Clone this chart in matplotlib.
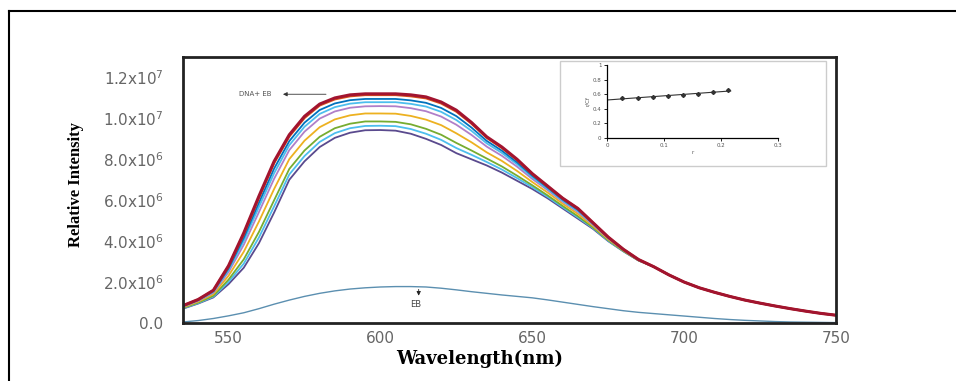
import numpy as np
import matplotlib
matplotlib.use("Agg")
import matplotlib.pyplot as plt
from matplotlib.lines import Line2D
from matplotlib.patches import Rectangle

# Emission spectra, intensity in units of 1e6
wavelength = list(range(535, 751, 5))

# shared tail 690..750 nm, where all DNA+EB curves merge
tail = [2.75, 2.35, 2.0, 1.72, 1.5, 1.3, 1.12, 0.97, 0.83, 0.7, 0.58, 0.47, 0.38]

dna_eb = [0.85, 1.15, 1.6, 2.8, 4.4, 6.2, 7.9, 9.2, 10.1, 10.7, 11.0, 11.15, 11.2, 11.2, 11.2, 11.15,
          11.05, 10.8, 10.4, 9.8, 9.1, 8.6, 8.0, 7.3, 6.7, 6.1, 5.6, 4.9, 4.2, 3.6, 3.1] + tail
curve2 = [0.85, 1.14, 1.59, 2.77, 4.35, 6.13, 7.83, 9.13, 10.03, 10.64, 10.94, 11.09, 11.15, 11.15, 11.15,
          11.09, 10.99, 10.74, 10.34, 9.75, 9.06, 8.56, 7.97, 7.28, 6.68, 6.09, 5.59, 4.89, 4.19, 3.6, 3.1] + tail
curve3 = [0.83, 1.12, 1.55, 2.67, 4.16, 5.88, 7.55, 8.89, 9.79, 10.41, 10.73, 10.89, 10.95, 10.95, 10.95,
          10.88, 10.76, 10.51, 10.11, 9.55, 8.9, 8.42, 7.85, 7.2, 6.62, 6.03, 5.53, 4.86, 4.17, 3.59, 3.1] + tail
curve4 = [0.82, 1.10, 1.52, 2.59, 4.01, 5.67, 7.32, 8.69, 9.59, 10.22, 10.55, 10.72, 10.79, 10.79, 10.79,
          10.71, 10.58, 10.32, 9.92, 9.39, 8.78, 8.31, 7.76, 7.13, 6.56, 5.98, 5.48, 4.83, 4.15, 3.58, 3.09] + tail
curve5 = [0.80, 1.08, 1.48, 2.49, 3.82, 5.42, 7.05, 8.45, 9.35, 9.99, 10.34, 10.52, 10.59, 10.6, 10.59,
          10.5, 10.35, 10.09, 9.69, 9.19, 8.62, 8.17, 7.64, 7.04, 6.5, 5.93, 5.43, 4.8, 4.13, 3.57, 3.08] + tail
curve6 = [0.77, 1.04, 1.41, 2.31, 3.48, 4.96, 6.55, 8.01, 8.91, 9.57, 9.95, 10.15, 10.24, 10.24, 10.23,
          10.12, 9.94, 9.67, 9.27, 8.83, 8.34, 7.92, 7.43, 6.89, 6.38, 5.83, 5.33, 4.74, 4.09, 3.55, 3.07] + tail
curve7 = [0.74, 1.0, 1.33, 2.12, 3.11, 4.45, 6.0, 7.53, 8.43, 9.1, 9.52, 9.74, 9.85, 9.85, 9.83,
          9.71, 9.49, 9.2, 8.8, 8.43, 8.04, 7.65, 7.2, 6.73, 6.24, 5.72, 5.22, 4.67, 4.05, 3.52, 3.06] + tail
curve8 = [0.72, 0.97, 1.29, 2.01, 2.9, 4.18, 5.7, 7.26, 8.16, 8.85, 9.28, 9.52, 9.63, 9.64, 9.62,
          9.48, 9.25, 8.95, 8.55, 8.22, 7.87, 7.5, 7.08, 6.64, 6.17, 5.66, 5.16, 4.64, 4.02, 3.51, 3.06] + tail
curve9 = [0.7, 0.95, 1.25, 1.9, 2.7, 3.9, 5.4, 7.0, 7.9, 8.6, 9.05, 9.3, 9.42, 9.43, 9.4,
          9.25, 9.0, 8.7, 8.3, 8.0, 7.7, 7.35, 6.95, 6.55, 6.1, 5.6, 5.1, 4.6, 4.0, 3.5, 3.05] + tail
eb_only = [0.05, 0.12, 0.22, 0.35, 0.5, 0.7, 0.92, 1.12, 1.3, 1.45, 1.57, 1.66, 1.72, 1.76, 1.78, 1.78,
           1.76, 1.7, 1.62, 1.53, 1.45, 1.37, 1.3, 1.23, 1.13, 1.02, 0.91, 0.8, 0.7, 0.6, 0.52, 0.46,
           0.4, 0.34, 0.28, 0.22, 0.17, 0.13, 0.1, 0.07, 0.05, 0.04, 0.03, 0.02]

series = [curve9, curve8, curve7, curve6, curve5, curve4, curve3, curve2, dna_eb]
colors = ['#5a4a8e', '#4DBEEE', '#77AC30', '#EDB120', '#b07fc8', '#4DBEEE', '#0072BD', '#D95319', '#A2142F']
widths = [1.3, 1.3, 1.3, 1.3, 1.3, 1.3, 1.3, 1.8, 2.2]

yticks = [0, 2e6, 4e6, 6e6, 8e6, 1e7, 1.2e7]
ytick_labels = ['0.0', '2.0x10$^6$', '4.0x10$^6$', '6.0x10$^6$', '8.0x10$^6$',
                '1.0x10$^7$', '1.2x10$^7$']
xticks = [550, 600, 650, 700, 750]

# inset data
inset_x = [0.027, 0.054, 0.081, 0.107, 0.133, 0.16, 0.186, 0.212]
inset_y = [0.55, 0.55, 0.56, 0.573, 0.582, 0.596, 0.633, 0.656]

fig = plt.figure(figsize=(9.56, 3.81), dpi=100)

# outer page frame
fig.add_artist(Line2D([9 / 956, 1.0], [1 - 11 / 381, 1 - 11 / 381], color='black', lw=1.5))
fig.add_artist(Line2D([9 / 956, 9 / 956], [0, 1 - 11 / 381], color='black', lw=1.5))

ax = fig.add_axes([183 / 956, 1 - 323 / 381, 653 / 956, 266 / 381])
wl = np.array(wavelength)
for s, c, w in zip(series, colors, widths):
    ax.plot(wl, np.array(s) * 1e6, color=c, lw=w)
ax.plot(wl, np.array(eb_only) * 1e6, color='#5b8fb0', lw=1.0)

ax.set_xlim(535, 750)
ax.set_ylim(0, 1.3e7)
ax.set_yticks(yticks)
ax.set_yticklabels(ytick_labels)
ax.set_xticks(xticks)
ax.tick_params(length=0, labelsize=11, labelcolor='#666666')
ax.tick_params(axis='y', pad=14)
ax.tick_params(axis='x', pad=6)
for sp in ax.spines.values():
    sp.set_linewidth(2)
    sp.set_color('#222222')

ax.set_xlabel('Wavelength(nm)', fontfamily='DejaVu Serif', fontweight='bold', fontsize=13)
ax.xaxis.set_label_coords((480 - 183) / 653, -27 / 266)
ax.set_ylabel('Relative Intensity', fontfamily='Liberation Serif', fontweight='bold', fontsize=12)
ax.yaxis.set_label_coords((84 - 183) / 653, 0.52)

# annotations
ax.annotate('', xy=(567, 11.18e6), xytext=(583, 11.18e6),
            arrowprops=dict(arrowstyle='-|>', lw=0.6, color='#333333', mutation_scale=6))
ax.text(564, 11.18e6, 'DNA+ EB', fontsize=5, color='#555555', ha='right', va='center')
ax.annotate('', xy=(612.6, 1.2e6), xytext=(612.6, 1.78e6),
            arrowprops=dict(arrowstyle='-|>', lw=0.6, color='#222222', mutation_scale=6))
ax.text(611.5, 0.9e6, 'EB', fontsize=6, color='#444444', ha='center', va='center')

# inset box and plot
fig.add_artist(Rectangle((560 / 956, 1 - 166 / 381), 266 / 956, 105 / 381,
                         transform=fig.transFigure, fill=False, ec='#cccccc', lw=1))
ins = fig.add_axes([607 / 956, 1 - 137.7 / 381, 171 / 956, 72.7 / 381])
ins.patch.set_alpha(0)
ins.plot(inset_x, inset_y, 'D', color='#333333', ms=2)
k, b = np.polyfit(inset_x, inset_y, 1)
fit_x = np.array([0, max(inset_x) + 0.005])
ins.plot(fit_x, k * fit_x + b, color='#333333', lw=0.8)
ins.set_xlim(0, 0.3)
ins.set_ylim(0, 1)
ins.set_xticks([0, 0.1, 0.2, 0.3])
ins.set_xticklabels(['0', '0.1', '0.2', '0.3'])
ins.set_yticks([0, 0.2, 0.4, 0.6, 0.8, 1])
ins.set_yticklabels(['0', '0.2', '0.4', '0.6', '0.8', '1'])
ins.tick_params(labelsize=4, length=2, width=0.6, labelcolor='#555555', pad=2)
ins.spines['top'].set_visible(False)
ins.spines['right'].set_visible(False)
for sp in ['left', 'bottom']:
    ins.spines[sp].set_linewidth(0.9)
ins.set_xlabel('r', fontsize=4, color='#555555', labelpad=1)
ins.set_ylabel('r/Cf', fontsize=4, color='#555555', labelpad=2)

fig.savefig('out.png', dpi=100)
